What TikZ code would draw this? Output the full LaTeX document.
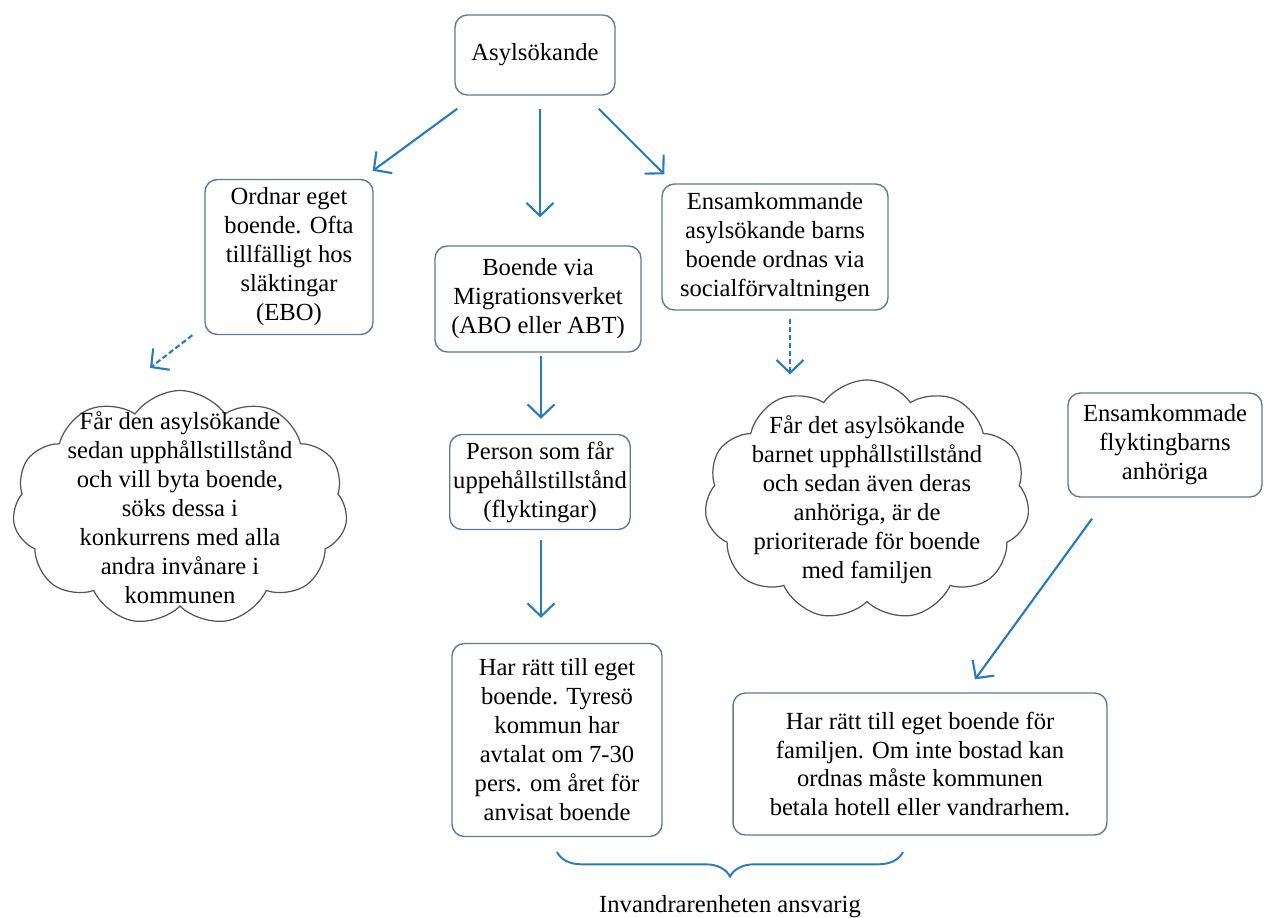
\documentclass[tikz,border=0pt]{standalone}
\usepackage{fontspec}
\setmainfont{Liberation Serif}
\usetikzlibrary{arrows.meta,shapes.symbols,decorations.pathreplacing}
\definecolor{arrowblue}{RGB}{40,122,192}
\definecolor{boxline}{RGB}{100,120,150}
\definecolor{cloudline}{RGB}{85,85,85}
\tikzset{
  box/.style={draw=boxline, line width=0.8pt, rounded corners=7pt, align=center, inner sep=2pt},
  puff/.style={draw=cloudline, line width=0.7pt, cloud, cloud puffs=11, cloud puff arc=110, align=center, inner xsep=-1.5cm, inner ysep=-1.5cm},
  arr/.style={draw=arrowblue, line width=1.2pt, -{Straight Barb[length=2.6mm,width=5.4mm]}},
  darr/.style={arr, dash pattern=on 3pt off 1.6pt}
}
\begin{document}
\begin{tikzpicture}[x=0.02cm, y=-0.02cm]
\fontsize{14}{16.5}\selectfont
\useasboundingbox (0,0) rectangle (1274,917);

\node[box, minimum width=3.2cm, minimum height=1.6cm] (asyl) at (535,55) {Asylsökande};
\node[box, minimum width=3.36cm, minimum height=3.1cm] (ordnar) at (289,257) {Ordnar eget\\boende. Ofta\\tillfälligt hos\\släktingar\\(EBO)};
\node[box, minimum width=4.12cm, minimum height=2.12cm] (boende) at (538,299) {Boende via\\Migrationsverket\\(ABO eller ABT)};
\node[box, minimum width=4.52cm, minimum height=2.52cm] (ensam) at (775,247) {Ensamkommande\\asylsökande barns\\boende ordnas via\\socialförvaltningen};
\node[box, minimum width=3.5cm, minimum height=1.9cm] (person) at (540,482) {Person som får\\uppehållstillstånd\\(flyktingar)};
\node[box, minimum width=4.2cm, minimum height=3.86cm] (harL) at (557,740) {Har rätt till eget\\boende. Tyresö\\kommun har\\avtalat om 7-30\\pers. om året för\\anvisat boende};
\node[box, minimum width=7.48cm, minimum height=2.84cm] (harR) at (920,764) {Har rätt till eget boende för\\familjen. Om inte bostad kan\\ordnas måste kommunen\\betala hotell eller vandrarhem.};
\node[box, minimum width=3.88cm, minimum height=2.08cm] (anhor) at (1165,445) {Ensamkommade\\flyktingbarns\\anhöriga};

\node[puff, minimum width=6.7cm, minimum height=4.7cm] (cloudL) at (180,508) {Får den asylsökande\\sedan upphållstillstånd\\och vill byta boende,\\söks dessa i\\konkurrens med alla\\andra invånare i\\kommunen};
\node[puff, minimum width=6.5cm, minimum height=4.8cm] (cloudR) at (867,500) {Får det asylsökande\\barnet upphållstillstånd\\och sedan även deras\\anhöriga, är de\\prioriterade för boende\\med familjen};

\path[arr] ([shift={(3,13)}]asyl.south west) -- ([shift={(-1,-8)}]ordnar.north east);
\path[arr] ([shift={(5,13)}]asyl.south) -- ([shift={(2,-28)}]boende.north);
\path[arr] ([shift={(-17,13)}]asyl.south east) -- ([shift={(3,-9)}]ensam.north west);
\path[darr] ([shift={(-12,0)}]ordnar.south west) -- ([shift={(-30,-22)}]cloudL.north);
\path[darr] ([shift={(15,8)}]ensam.south) -- ([shift={(-77,-5)}]cloudR.north);
\path[arr] ([shift={(3,3)}]boende.south) -- ([shift={(1,-15)}]person.north);
\path[arr] ([shift={(1,10)}]person.south) -- ([shift={(-16,-25)}]harL.north);
\path[arr] ([shift={(-73,21)}]anhor.south) -- ([shift={(55,-13)}]harR.north);

% brace under the two boxes
\coordinate (braceL) at (557,852);
\coordinate (braceR) at (903,852);
\draw[arrowblue, line width=1.1pt, decorate, decoration={brace, mirror, amplitude=14pt, aspect=0.5}] (braceL) -- (braceR);
\node[anchor=north, inner sep=0pt] (ansvar) at (730,895) {Invandrarenheten ansvarig};
\end{tikzpicture}
\end{document}
